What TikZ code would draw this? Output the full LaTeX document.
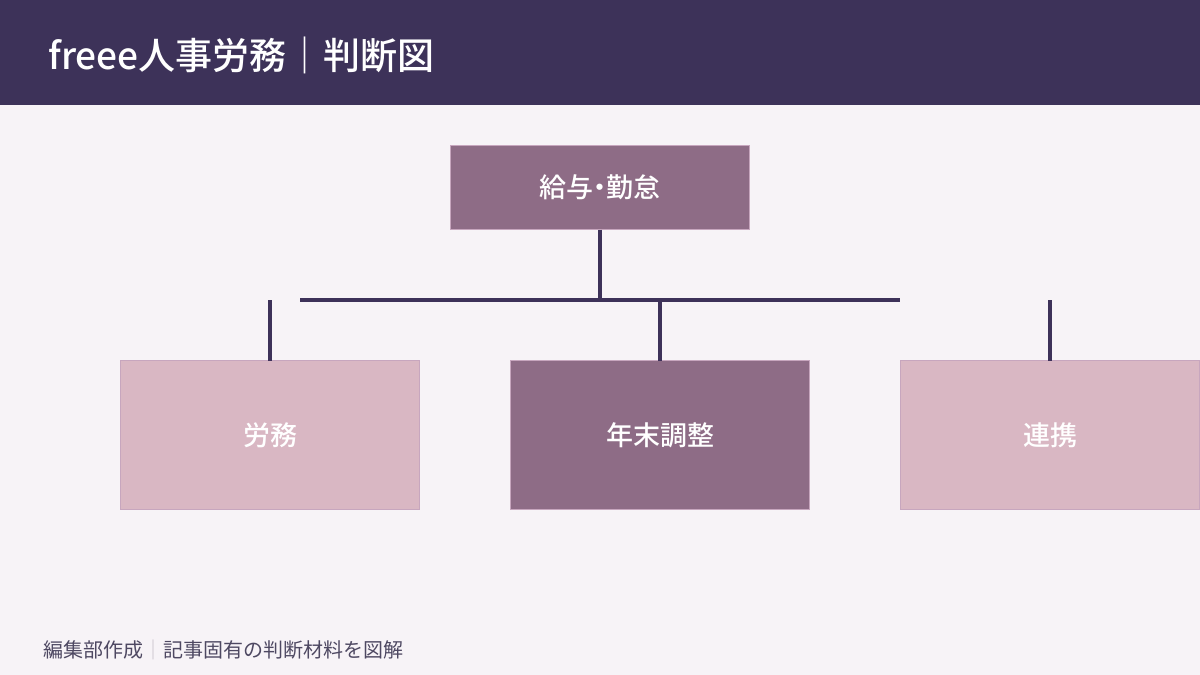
\documentclass[tikz,border=0pt]{standalone}
\usepackage{fontspec}
\setmainfont{Noto Sans CJK JP}
\newfontfamily\cjk{Noto Sans CJK JP}
\newfontfamily\cjkm{Noto Sans CJK JP Medium}
\newfontfamily\cjkmp{Noto Sans CJK JP Medium}[RawFeature=+palt]
\definecolor{bgc}{HTML}{F7F3F7}
\definecolor{hdrc}{HTML}{3D3259}
\definecolor{darkbox}{HTML}{8E6C86}
\definecolor{lightbox}{HTML}{D9B7C3}
\definecolor{boxedge}{HTML}{C7A6BE}
\definecolor{linec}{HTML}{3D3159}
\definecolor{footc}{HTML}{4E4862}
\definecolor{sepc}{HTML}{C9C1CC}
\begin{document}
\begin{tikzpicture}[x=1pt,y=-1pt,
  boxbase/.style={rectangle, draw=boxedge, line width=1pt, inner sep=0pt, outer sep=0pt,
    text=white, font=\cjkm\fontsize{27}{32}\selectfont},
  darkstyle/.style={boxbase, fill=darkbox},
  lightstyle/.style={boxbase, fill=lightbox},
  conn/.style={draw=linec, line width=4.5pt}]
\useasboundingbox (0,0) rectangle (1200,675);
\fill[bgc] (0,0) rectangle (1200,675);
\fill[hdrc] (0,0) rectangle (1200,105);
\node[anchor=west, inner sep=0pt, text=white, font=\cjkm\fontsize{37}{42}\selectfont] (title) at (48,55) {freee人事労務｜判断図};

\node[darkstyle, minimum width=299pt, minimum height=84pt, font=\cjkmp\fontsize{27}{32}\selectfont] (kyuyo) at (600,187.5) {給与・勤怠};
\node[lightstyle, minimum width=299pt, minimum height=149pt] (romu) at (270,435) {労務};
\node[darkstyle, minimum width=299pt, minimum height=149pt] (nenmatsu) at (660,435) {年末調整};
\node[lightstyle, minimum width=299pt, minimum height=149pt] (renkei) at (1050,435) {連携};

\coordinate (busL) at (300,300);
\coordinate (busR) at (900,300);
\draw[conn] (busL) -- (busR);
\draw[conn] (kyuyo.south) -- (kyuyo.south |- busL);
\draw[conn] (romu.north) -- (romu.north |- busL);
\draw[conn] (nenmatsu.north) -- (nenmatsu.north |- busL);
\draw[conn] (renkei.north) -- (renkei.north |- busL);

\node[anchor=west, inner sep=0pt, text=footc, font=\cjk\fontsize{20}{24}\selectfont] (foot) at (43,650) {編集部作成\textcolor{sepc}{｜}記事固有の判断材料を図解};
\end{tikzpicture}
\end{document}
